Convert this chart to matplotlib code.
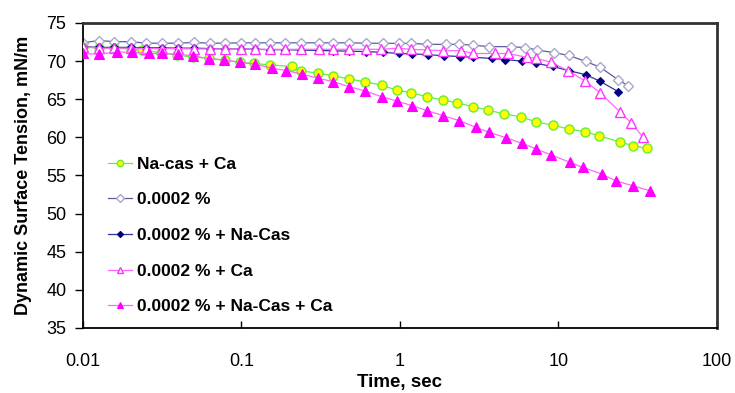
import numpy as np
from matplotlib import pyplot as plt

plt.rcParams['font.family'] = ['Liberation Sans', 'DejaVu Sans']

# Na-cas + Ca
t_nacas_ca = [0.01, 0.0126, 0.0158, 0.02, 0.0236, 0.031, 0.0392, 0.0494, 0.0624, 0.0787,
              0.0978, 0.12, 0.151, 0.207, 0.237, 0.303, 0.38, 0.476, 0.60, 0.766,
              0.953, 1.17, 1.49, 1.86, 2.28, 2.9, 3.57, 4.53, 5.78, 7.18,
              9.19, 11.6, 14.6, 18.1, 24.4, 29.6, 36.0]
st_nacas_ca = [71.8, 71.75, 71.7, 71.6, 71.45, 71.1, 70.8, 70.5, 70.4, 70.1,
               69.85, 69.7, 69.5, 69.3, 68.75, 68.4, 68.1, 67.65, 67.3, 66.85,
               66.2, 65.86, 65.33, 64.9, 64.55, 64.0, 63.6, 63.07, 62.7, 62.05,
               61.6, 61.1, 60.75, 60.2, 59.4, 58.9, 58.56]

# 0.0002 %
t_p = [0.01, 0.0126, 0.0158, 0.02, 0.025, 0.0316, 0.0398, 0.05, 0.063, 0.079,
       0.1, 0.121, 0.151, 0.189, 0.237, 0.31, 0.38, 0.48, 0.61, 0.776,
       0.99, 1.18, 1.49, 1.95, 2.37, 2.88, 3.66, 4.99, 6.15, 7.35,
       9.4, 11.6, 14.9, 18.3, 23.8, 27.6]
st_p = [72.4, 72.7, 72.55, 72.55, 72.35, 72.35, 72.35, 72.45, 72.35, 72.35,
        72.4, 72.4, 72.4, 72.4, 72.4, 72.4, 72.4, 72.4, 72.35, 72.33,
        72.33, 72.33, 72.2, 72.2, 72.2, 72.1, 71.9, 71.9, 71.77, 71.46,
        71.1, 70.75, 69.95, 69.2, 67.55, 66.75]

# 0.0002 % + Na-Cas
t_p_nacas = [0.01, 0.0126, 0.0158, 0.02, 0.025, 0.0316, 0.0398, 0.05, 0.063, 0.079,
             0.1, 0.121, 0.151, 0.189, 0.237, 0.31, 0.38, 0.48, 0.61, 0.776,
             0.99, 1.19, 1.5, 1.9, 2.4, 2.9, 3.8, 4.6, 5.9, 7.2,
             9.2, 11.6, 15.0, 18.3, 23.8]
st_p_nacas = [71.9, 71.8, 71.8, 71.8, 71.75, 71.75, 71.7, 71.7, 71.65, 71.6,
              71.6, 71.55, 71.5, 71.5, 71.45, 71.4, 71.35, 71.3, 71.25, 71.15,
              71.0, 70.95, 70.85, 70.7, 70.6, 70.5, 70.35, 70.2, 70.0, 69.7,
              69.3, 68.75, 68.2, 67.35, 66.0]

# 0.0002 % + Ca
t_p_ca = [0.01, 0.0126, 0.0158, 0.02, 0.025, 0.0316, 0.0398, 0.05, 0.063, 0.079,
          0.1, 0.121, 0.151, 0.189, 0.237, 0.31, 0.38, 0.48, 0.61, 0.757,
          0.97, 1.17, 1.47, 1.88, 2.43, 2.9, 3.97, 4.82, 6.3, 7.2,
          9.0, 11.5, 14.7, 18.3, 24.4, 28.7, 34.3]
st_p_ca = [71.9, 71.7, 71.7, 71.7, 71.65, 71.65, 71.65, 71.6, 71.6, 71.6,
           71.6, 71.55, 71.55, 71.55, 71.55, 71.55, 71.55, 71.55, 71.55, 71.55,
           71.7, 71.55, 71.46, 71.37, 71.37, 71.0, 71.0, 71.0, 70.5, 70.37,
           69.85, 68.75, 67.4, 65.85, 63.35, 61.9, 60.0]

# 0.0002 % + Na-Cas + Ca
t_p_nacas_ca = [0.01, 0.0126, 0.0164, 0.0204, 0.026, 0.0314, 0.0398, 0.0497, 0.0626, 0.078,
                0.0978, 0.121, 0.155, 0.192, 0.24, 0.305, 0.38, 0.477, 0.60, 0.766,
                0.953, 1.19, 1.49, 1.88, 2.36, 3.02, 3.66, 4.64, 5.92, 7.2,
                8.97, 11.8, 14.2, 18.7, 23.0, 29.4, 37.8]
st_p_nacas_ca = [71.0, 70.9, 71.2, 71.15, 71.0, 71.0, 70.9, 70.7, 70.3, 70.15,
                 69.85, 69.6, 69.1, 68.75, 68.3, 67.75, 67.3, 66.65, 66.1, 65.33,
                 64.77, 64.16, 63.5, 62.84, 62.2, 61.3, 60.66, 59.96, 59.2, 58.5,
                 57.7, 56.73, 56.07, 55.2, 54.3, 53.65, 53.0]

fig = plt.figure(figsize=(7.35, 3.93), dpi=100)
ax = fig.add_axes([0.1129, 0.1654, 0.8626, 0.7761])

ax.plot(t_nacas_ca, st_nacas_ca, '-o', color='#66ee44', lw=0.9, ms=6.5,
        mfc='#ffff00', mec='#66ee33', mew=1.0, label='Na-cas + Ca', zorder=3)
ax.plot(t_p, st_p, '-D', color='#5a5aa8', lw=0.9, ms=5.5,
        mfc='white', mec='#a8a8cc', mew=1.0, label='0.0002 %', zorder=2)
ax.plot(t_p_nacas, st_p_nacas, '-D', color='#333399', lw=0.9, ms=4.5,
        mfc='#000080', mec='#000080', mew=0.8, label='0.0002 % + Na-Cas', zorder=3)
ax.plot(t_p_ca, st_p_ca, '-^', color='#ff66ff', lw=0.9, ms=7,
        mfc='white', mec='#ff33ff', mew=1.0, label='0.0002 % + Ca', zorder=4)
ax.plot(t_p_nacas_ca, st_p_nacas_ca, '-^', color='#ff66ff', lw=0.9, ms=6.5,
        mfc='#ff00ff', mec='#ff00ff', mew=0.8, label='0.0002 % + Na-Cas + Ca', zorder=4)

ax.set_xscale('log')
ax.set_xlim(0.01, 100)
ax.set_ylim(35, 75)
ax.set_xticks([0.01, 0.1, 1, 10, 100])
ax.set_xticklabels(['0.01', '0.1', '1', '10', '100'])
ax.xaxis.set_minor_locator(plt.NullLocator())
ax.set_yticks(np.arange(35, 76, 5))

ax.tick_params(axis='x', direction='in', length=5, width=1, pad=18, labelsize=13)
ax.tick_params(axis='y', direction='out', length=6, width=1, pad=6, labelsize=13)
for side in ['left', 'bottom']:
    ax.spines[side].set_linewidth(1.3)
for side in ['top', 'right']:
    ax.spines[side].set_linewidth(2)
    ax.spines[side].set_color('#333333')

ax.set_xlabel('Time, sec', fontweight='bold', fontsize=13.5, labelpad=3)
ax.set_ylabel('Dynamic Surface Tension, mN/m', fontweight='bold', fontsize=13, labelpad=10)

leg = ax.legend(loc='lower left', bbox_to_anchor=(0.039, 0.045), frameon=False,
                prop={'weight': 'bold', 'size': 12.5}, handlelength=1.4,
                handletextpad=0.3, labelspacing=1.18, markerscale=0.7,
                borderaxespad=0, borderpad=0)

plt.savefig('out.png', dpi=100)
